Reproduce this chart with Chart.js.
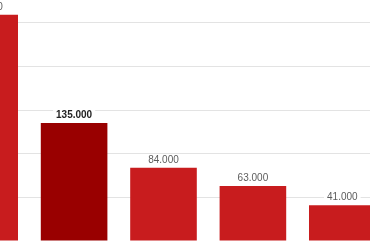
<!DOCTYPE html>
<html>
<head>
<meta charset="utf-8">
<script src="https://cdn.jsdelivr.net/npm/chart.js@4.4.1/dist/chart.umd.min.js"></script>
<style>
  html, body { margin: 0; padding: 0; width: 370px; height: 247px; overflow: hidden; background: #fff; }
  #wrap { position: absolute; left: -60px; top: -21px; }
</style>
</head>
<body>
<div id="wrap"><canvas id="chart" width="447" height="262"></canvas></div>
<script>
const categories = ['A', 'B', 'C', 'D', 'E'];
const values = [259000, 135000, 84000, 63000, 41000];
const highlighted = 1;          // the dark bar with the bold label
const yMax = 300000;
const yStep = 50000;

const RED = '#c81c1e';
const DARK = '#990000';

// where the plot area sits in the 370x247 window (the picture is a crop)
const AREA_LEFT = -60.3;
const AREA_BOTTOM = 241;

const fmt = v => v.toLocaleString('de-DE');

// value labels above the bars, on a white patch (cuts the gridline like the original)
const valueLabels = {
    id: 'valueLabels',
    afterDatasetsDraw(chart) {
        const ctx = chart.ctx;
        const meta = chart.getDatasetMeta(0);
        ctx.save();
        ctx.textAlign = 'center';
        ctx.textBaseline = 'alphabetic';
        meta.data.forEach((bar, i) => {
            const bold = i === highlighted;
            ctx.font = (bold ? 'bold ' : '') + '10px "Liberation Sans", Arial, sans-serif';
            const text = fmt(values[i]);
            const w = ctx.measureText(text).width;
            const y = bar.y - 5;
            ctx.fillStyle = '#fff';
            ctx.fillRect(bar.x - w / 2 - 3, y - 8, w + 6, 10);
            ctx.fillStyle = bold ? '#222' : '#5c5c5c';
            ctx.fillText(text, bar.x, y);
        });
        ctx.restore();
    }
};

const chart = new Chart(document.getElementById('chart'), {
    type: 'bar',
    data: {
        labels: categories,
        datasets: [{
            data: values,
            backgroundColor: values.map((v, i) => i === highlighted ? DARK : RED),
            borderWidth: 0,
            categoryPercentage: 1,
            barPercentage: 0.745
        }]
    },
    options: {
        responsive: false,
        devicePixelRatio: 1,
        animation: false,
        layout: { padding: 0 },
        plugins: { legend: { display: false }, tooltip: { enabled: false } },
        scales: {
            x: {
                grid: { display: false, drawTicks: false },
                ticks: { display: false },
                border: { display: true, color: '#6e6e6e', width: 1 }
            },
            y: {
                min: 0,
                max: yMax,
                ticks: { display: false, stepSize: yStep },
                grid: { color: '#e3e3e3', lineWidth: 1, drawTicks: false },
                border: { display: false }
            }
        }
    },
    plugins: [valueLabels]
});

const area = chart.chartArea;
const wrap = document.getElementById('wrap');
wrap.style.left = (AREA_LEFT - area.left) + 'px';
wrap.style.top = (AREA_BOTTOM - area.bottom) + 'px';
</script>
</body>
</html>
